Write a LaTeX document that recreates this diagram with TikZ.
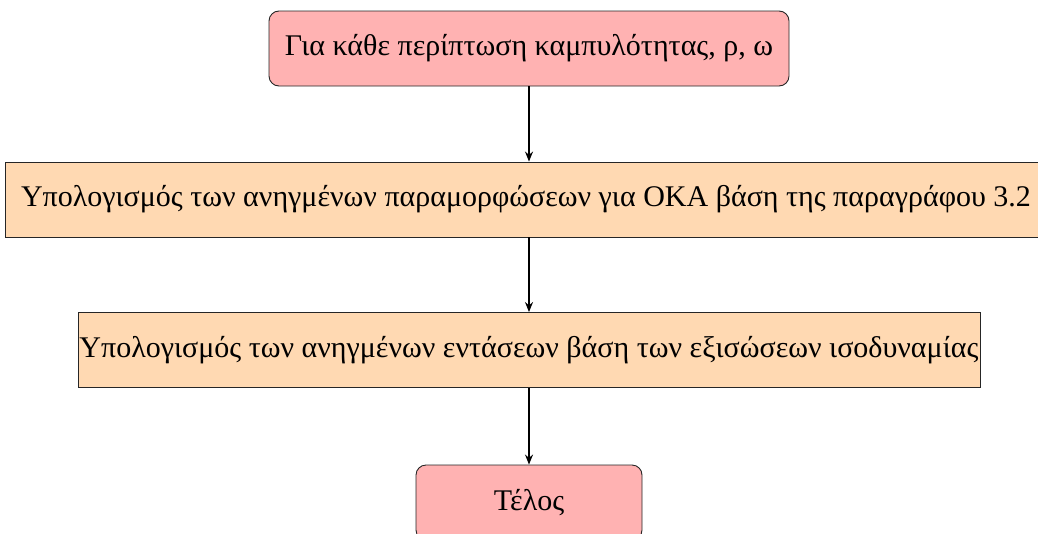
\documentclass[tikz,border=0pt]{standalone}
\usepackage{fontspec}
\setmainfont{Liberation Serif}
\usetikzlibrary{arrows.meta}
\begin{document}
\begin{tikzpicture}[x=1pt,y=-1pt,
  base/.style={draw=black!85, line width=0.9pt, inner sep=0pt, minimum height=75pt,
    font=\fontsize{30}{34}\selectfont, anchor=center},
  startstop/.style={base, rounded corners=10pt, fill=red!30},
  process/.style={base, fill=orange!30},
  flow/.style={line width=1.2pt, -{Stealth[length=10pt,width=8pt]}}]
  \useasboundingbox (0,0) rectangle (1038,533);
  \node[startstop, minimum width=520pt] (start) at (529,48.5) {Για κάθε περίπτωση καμπυλότητας, ρ, ω};
  \node[process, minimum width=1042pt] (strain) at (526,199.5) {Υπολογισμός των ανηγμένων παραμορφώσεων για ΟΚΑ βάση της παραγράφου 3.2};
  \node[process, minimum width=902pt] (stress) at (529,350) {Υπολογισμός των ανηγμένων εντάσεων βάση των εξισώσεων ισοδυναμίας};
  \node[startstop, minimum width=226pt] (stop) at (529,502.5) {Τέλος};
  \draw[flow] (start) -- (start |- strain.north);
  \draw[flow] (start |- strain.south) -- (stress);
  \draw[flow] (stress) -- (stop);
\end{tikzpicture}
\end{document}
